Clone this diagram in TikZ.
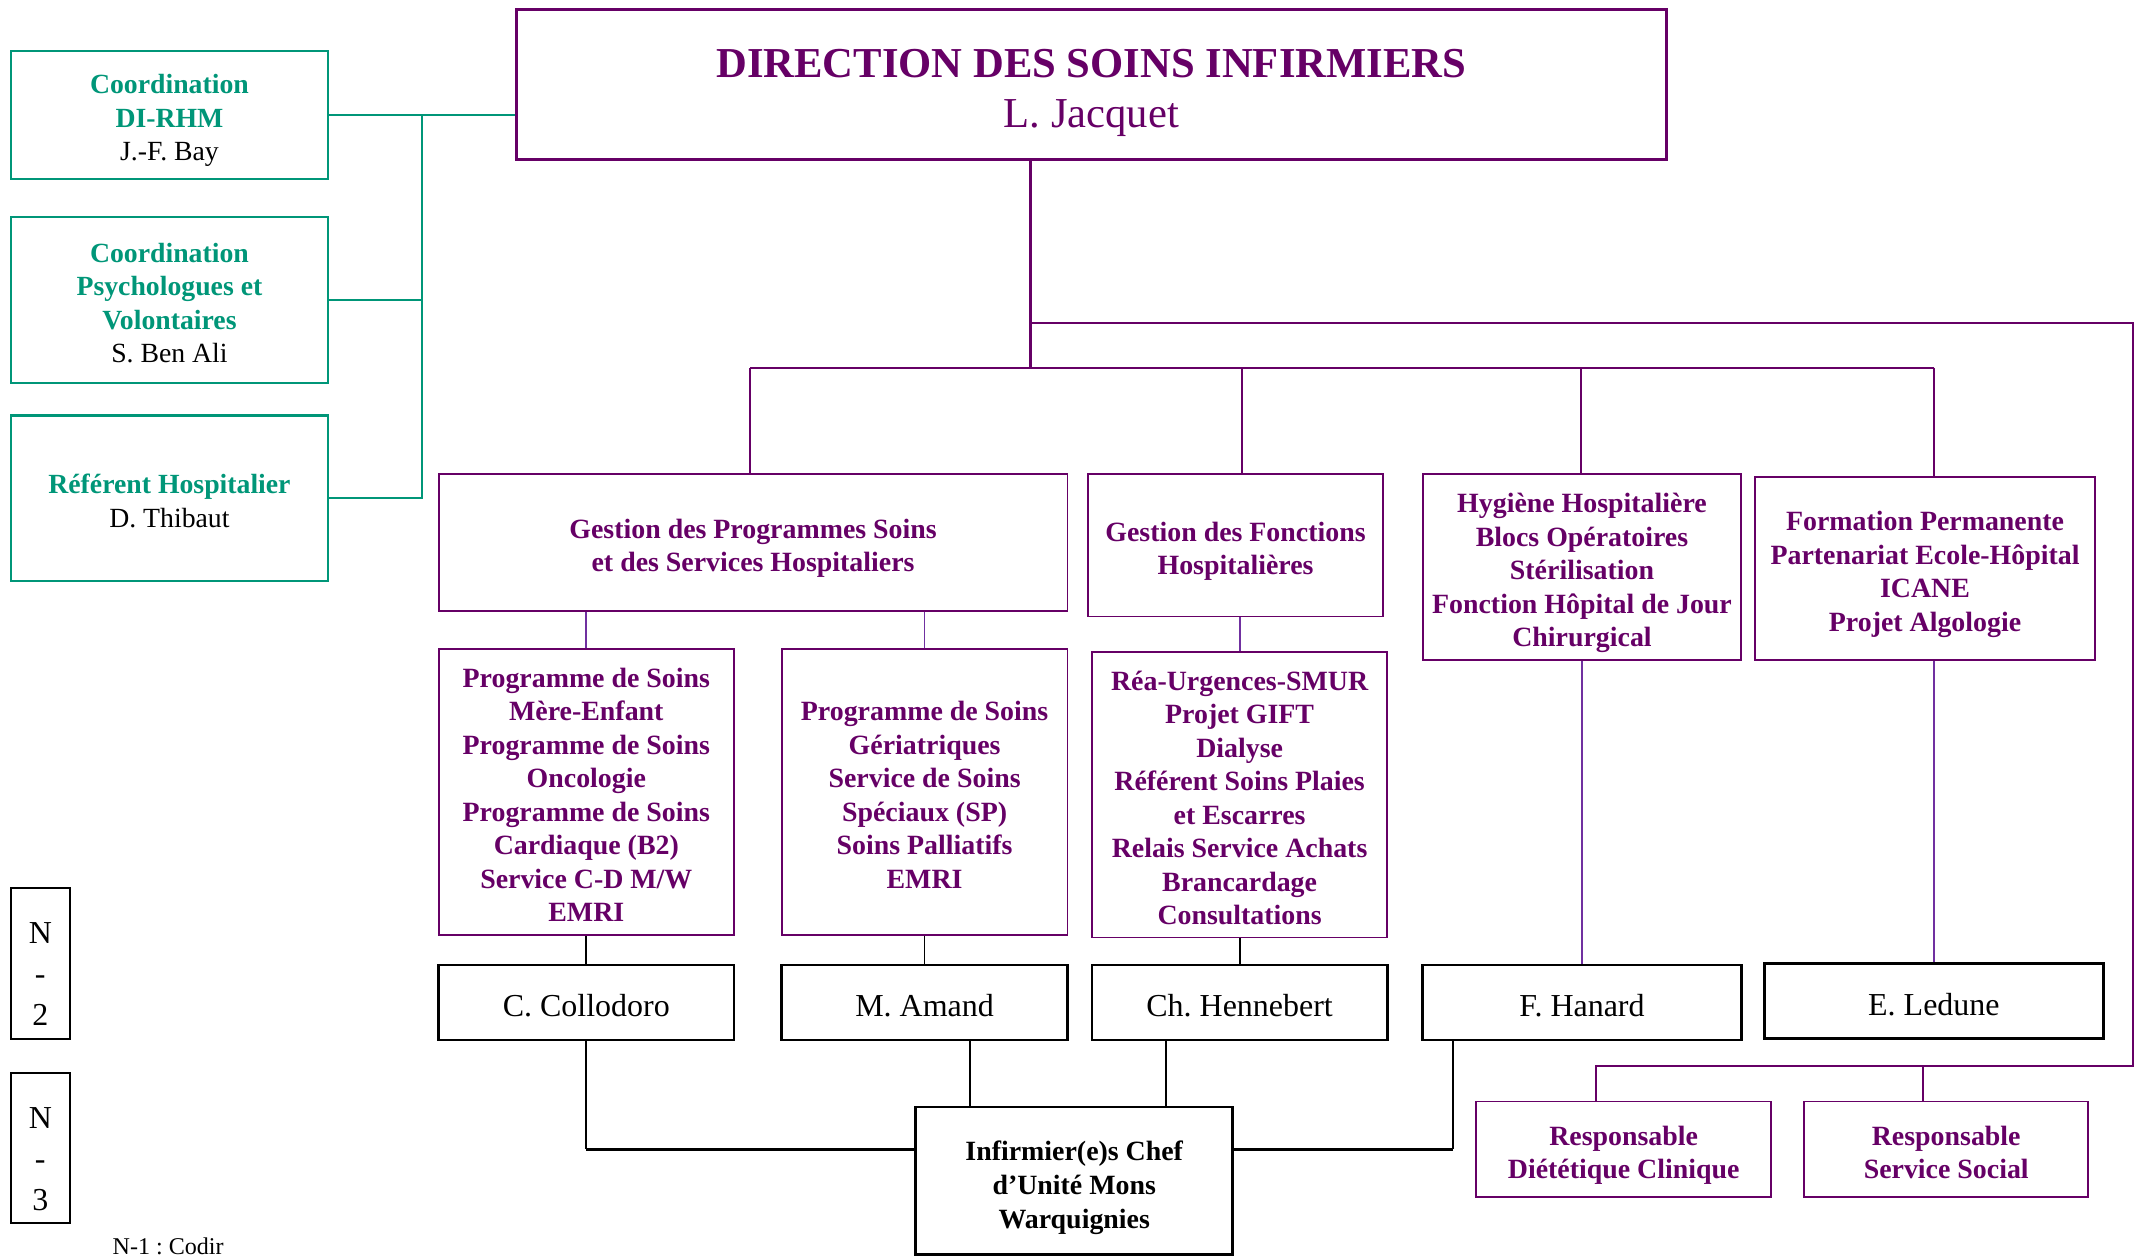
\documentclass[tikz,border=0pt]{standalone}
\usepackage{fontspec}
\setmainfont{Liberation Serif}
\usepackage{xcolor}
\definecolor{purp}{RGB}{102,0,102}
\definecolor{grn}{RGB}{0,150,120}
\definecolor{viol}{RGB}{112,48,160}
\frenchspacing
\tikzset{gbox/.style={rectangle,draw=grn,line width=1.5pt,inner sep=0pt,align=center,text depth=0pt,font=\fontsize{20.3}{24.5}\selectfont},
pbox/.style={rectangle,draw=purp,line width=1.3pt,inner sep=0pt,align=center,text depth=0pt,text=purp,font=\fontsize{20.4}{24.5}\selectfont\bfseries},
nbox/.style={rectangle,draw=black,line width=2pt,inner sep=0pt,align=center,text depth=0pt,font=\fontsize{23.4}{28}\selectfont},
gline/.style={draw=grn,line width=1.5pt},
pline/.style={draw=purp,line width=1.5pt},
vline/.style={draw=viol,line width=1.3pt},
bline/.style={draw=black,line width=1.3pt}}
\newcommand{\gr}[1]{\textcolor{grn}{\bfseries #1}}
\newcommand{\dn}[1][0.9em]{\rule{0pt}{#1}}

\begin{document}
\begin{tikzpicture}[x=1pt,y=-1pt]
    \useasboundingbox (0,0) rectangle (1568,920);
    \node[gbox,minimum width=232pt,minimum height=94pt] (coord) at (124,84) {\dn\gr{Coordination}\\\gr{DI-RHM}\\J.-F. Bay};
    \node[gbox,minimum width=232pt,minimum height=121pt] (psy) at (124,219.5) {\dn\gr{Coordination}\\\gr{Psychologues et}\\\gr{Volontaires}\\S. Ben Ali};
    \node[gbox,minimum width=232pt,minimum height=121pt] (ref) at (124,364.5) {\dn\gr{Référent Hospitalier}\\D. Thibaut};
    \node[pbox,line width=2.2pt,minimum width=841pt,minimum height=110pt,font=\fontsize{31.2}{37}\selectfont] (dir) at (798.5,62) {\dn[26pt]\textbf{DIRECTION DES SOINS INFIRMIERS}\\L. Jacquet};

    \node[pbox,minimum width=460pt,minimum height=100pt] (gprog) at (551,397) {\dn Gestion des Programmes Soins\\et des Services Hospitaliers};
    \node[pbox,minimum width=216pt,minimum height=104pt] (gfonc) at (904,399) {\dn Gestion des Fonctions\\Hospitalières};
    \node[pbox,minimum width=233pt,minimum height=136pt] (hyg) at (1157.5,415) {\dn Hygiène Hospitalière\\Blocs Opératoires\\Stérilisation\\Fonction Hôpital de Jour\\Chirurgical};
    \node[pbox,minimum width=249pt,minimum height=134pt] (form) at (1408.5,416) {\dn Formation Permanente\\Partenariat Ecole-Hôpital\\ICANE\\Projet Algologie};

    \node[pbox,minimum width=216pt,minimum height=209pt] (pmere) at (429,579.5) {\dn Programme de Soins\\Mère-Enfant\\Programme de Soins\\Oncologie\\Programme de Soins\\Cardiaque (B2)\\Service C-D M/W\\EMRI};
    \node[pbox,minimum width=209pt,minimum height=209pt] (pger) at (676.5,579.5) {\dn Programme de Soins\\Gériatriques\\Service de Soins\\Spéciaux (SP)\\Soins Palliatifs\\EMRI};
    \node[pbox,minimum width=216pt,minimum height=209pt] (prea) at (907,581.5) {\dn Réa-Urgences-SMUR\\Projet GIFT\\Dialyse\\Référent Soins Plaies\\et Escarres\\Relais Service Achats\\Brancardage\\Consultations};

    \node[nbox,minimum width=216pt,minimum height=55pt] (coll) at (429,733.5) {\dn C. Collodoro};
    \node[nbox,minimum width=209pt,minimum height=55pt] (amand) at (676.5,733.5) {\dn M. Amand};
    \node[nbox,minimum width=216pt,minimum height=55pt] (henn) at (907,733.5) {\dn Ch. Hennebert};
    \node[nbox,minimum width=233pt,minimum height=55pt] (hanard) at (1157.5,733.5) {\dn F. Hanard};
    \node[nbox,minimum width=248pt,minimum height=55pt] (ledune) at (1415,732.5) {\dn E. Ledune};

    \node[nbox,minimum width=232pt,minimum height=108pt,font=\fontsize{20.4}{25}\selectfont\bfseries] (inf) at (786,864) {\dn[1em]Infirmier(e)s Chef\\d'Unité Mons\\Warquignies};
    \node[pbox,minimum width=216pt,minimum height=70pt] (diet) at (1188,841) {\dn Responsable\\Diététique Clinique};
    \node[pbox,minimum width=208pt,minimum height=70pt] (soc) at (1424,841) {\dn Responsable\\Service Social};

    \node[nbox,line width=1.5pt,minimum width=43pt,minimum height=110pt,font=\fontsize{23.4}{30}\selectfont] (n2) at (29.5,705) {\dn[31pt]N\\-\\2};
    \node[nbox,line width=1.5pt,minimum width=43pt,minimum height=110pt,font=\fontsize{23.4}{30}\selectfont] (n3) at (29.5,840) {\dn[31pt]N\\-\\3};
    \node[font=\fontsize{17.6}{20}\selectfont] (codir) at (123,912) {N-1 : Codir};

    % coordinations a gauche
    \coordinate (gv) at (309,84);
    \draw [gline] (coord.east) -- (coord.east -| dir.west);
    \draw [gline] (gv) |- (ref.east);
    \draw [gline] (psy.east) -- (psy.east -| gv);

    % direction
    \coordinate (bar) at (754,269);
    \coordinate (rt) at (1561,236);
    \coordinate (rb) at (1561,780);
    \coordinate (e1) at (1168,780);
    \coordinate (e2) at (1407,780);
    \coordinate (b1) at (549,269);
    \coordinate (b2) at (909,269);
    \coordinate (b3) at (1157,269);
    \coordinate (b4) at (1415,269);
    \draw [pline] (dir.south -| bar) -- (bar);
    \draw [pline] (bar |- rt) -- (rt) -- (rb) -- (e1) -- (e1 |- diet.north);
    \draw [pline] (e2) -- (e2 |- soc.north);
    \draw [pline] (b1) -- (b4);
    \draw [pline] (b1) -- (b1 |- gprog.north);
    \draw [pline] (b2) -- (b2 |- gfonc.north);
    \draw [pline] (b3) -- (b3 |- hyg.north);
    \draw [pline] (b4) -- (b4 |- form.north);

    \draw [vline] (pmere.north) -- (pmere.north |- gprog.south);
    \draw [vline] (pger.north) -- (pger.north |- gprog.south);
    \draw [vline] (prea.north) -- (prea.north |- gfonc.south);
    \draw [vline] (hyg.south) -- (hanard.north);
    \draw [vline] (ledune.north) -- (ledune.north |- form.south);

    \draw [bline] (pmere.south) -- (coll.north);
    \draw [bline] (pger.south) -- (amand.north);
    \draw [bline] (prea.south) -- (henn.north);

    % vers les infirmier(e)s chef
    \coordinate (k1) at (429,841);
    \coordinate (k2) at (1063,841);
    \coordinate (m1) at (710,810);
    \coordinate (m2) at (853,810);
    \draw [bline] (coll.south) -- (k1);
    \draw [bline,line width=2.2pt] (k1) -- (k1 -| inf.west);
    \draw [bline] (hanard.south -| k2) -- (k2);
    \draw [bline,line width=2.2pt] (k2) -- (k2 -| inf.east);
    \draw [bline] (amand.south -| m1) -- (m1 |- inf.north);
    \draw [bline] (henn.south -| m2) -- (m2 |- inf.north);
\end{tikzpicture}
\end{document}
